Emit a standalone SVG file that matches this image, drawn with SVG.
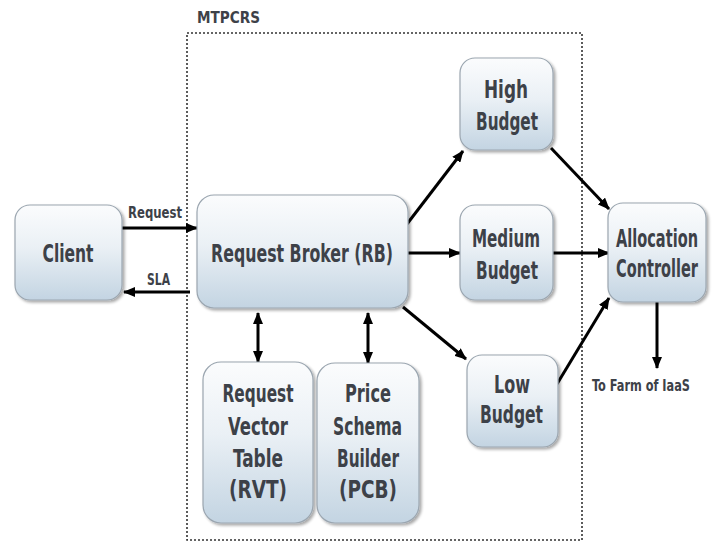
<svg xmlns="http://www.w3.org/2000/svg" width="714" height="546" viewBox="0 0 714 546">
  <defs>
    <linearGradient id="boxFill" x1="0" y1="0" x2="0" y2="1">
      <stop offset="0" stop-color="#fbfcfd"/>
      <stop offset="0.45" stop-color="#eaf0f5"/>
      <stop offset="1" stop-color="#c3d4e2"/>
    </linearGradient>
    <filter id="shadow" x="-10%" y="-10%" width="125%" height="125%">
      <feGaussianBlur in="SourceAlpha" stdDeviation="1.5"/>
      <feOffset dx="1.5" dy="2" result="b"/>
      <feComponentTransfer><feFuncA type="linear" slope="0.35"/></feComponentTransfer>
      <feMerge><feMergeNode/><feMergeNode in="SourceGraphic"/></feMerge>
    </filter>
    <marker id="head" viewBox="0 0 12 10" refX="11" refY="5" markerWidth="12" markerHeight="10" markerUnits="userSpaceOnUse" orient="auto-start-reverse">
      <path d="M0,0 L12,5 L0,10 Z" fill="#000"/>
    </marker>
  </defs>
  <style>
    .box { fill: url(#boxFill); stroke: #9ba6b0; stroke-width: 1.2; filter: url(#shadow); }
    .lbl { font-family: "DejaVu Sans Condensed", "DejaVu Sans", sans-serif; font-weight: bold; fill: #3d4148; text-anchor: middle; }
    .big { font-size: 24px; }
    .small { font-size: 16px; }
    .edge { stroke: #000; stroke-width: 3; fill: none; marker-end: url(#head); }
    .both { marker-start: url(#head); }
    .frame { fill: none; stroke: #333; stroke-width: 1.6; stroke-dasharray: 2 2; }
  </style>

  <rect width="714" height="546" fill="#fff"/>

  <!-- system boundary -->
  <g id="mtpcrs">
    <rect class="frame" x="187" y="33" width="395" height="507"/>
    <text class="lbl small" x="228.5" y="23" textLength="63" lengthAdjust="spacingAndGlyphs">MTPCRS</text>
  </g>

  <!-- connectors -->
  <g id="connectors">
    <line class="edge" x1="122" y1="228" x2="197" y2="228"/>
    <line class="edge" x1="190" y1="292" x2="124" y2="292"/>
    <line class="edge" x1="407" y1="224" x2="463" y2="151"/>
    <line class="edge" x1="408" y1="253" x2="460" y2="253"/>
    <line class="edge" x1="403" y1="307" x2="466" y2="359"/>
    <line class="edge" x1="551" y1="148" x2="609" y2="209"/>
    <line class="edge" x1="553" y1="253" x2="609" y2="253"/>
    <line class="edge" x1="557" y1="384" x2="609" y2="298"/>
    <line class="edge" x1="657" y1="302" x2="657" y2="368"/>
    <line class="edge both" x1="258" y1="313" x2="258" y2="362"/>
    <line class="edge both" x1="368" y1="313" x2="368" y2="363"/>
    <text class="lbl small" x="155" y="218" textLength="54" lengthAdjust="spacingAndGlyphs">Request</text>
    <text class="lbl small" x="158.5" y="285" textLength="23" lengthAdjust="spacingAndGlyphs">SLA</text>
    <text class="lbl small" x="641" y="391" textLength="98" lengthAdjust="spacingAndGlyphs">To Farm of IaaS</text>
  </g>

  <g id="client">
    <rect class="box" x="15" y="205" width="107" height="95" rx="15"/>
    <text class="lbl big" x="68" y="262" textLength="51" lengthAdjust="spacingAndGlyphs">Client</text>
  </g>

  <g id="request-broker">
    <rect class="box" x="197" y="195" width="211" height="113" rx="17"/>
    <text class="lbl big" x="302" y="262" textLength="182" lengthAdjust="spacingAndGlyphs">Request Broker (RB)</text>
  </g>

  <g id="high-budget">
    <rect class="box" x="460" y="58" width="93" height="92" rx="15"/>
    <text class="lbl big" x="506" y="98" textLength="44" lengthAdjust="spacingAndGlyphs">High</text>
    <text class="lbl big" x="507" y="130" textLength="62" lengthAdjust="spacingAndGlyphs">Budget</text>
  </g>

  <g id="medium-budget">
    <rect class="box" x="460" y="205" width="93" height="95" rx="15"/>
    <text class="lbl big" x="506" y="247" textLength="68" lengthAdjust="spacingAndGlyphs">Medium</text>
    <text class="lbl big" x="507" y="279" textLength="62" lengthAdjust="spacingAndGlyphs">Budget</text>
  </g>

  <g id="low-budget">
    <rect class="box" x="467" y="355" width="91" height="92" rx="15"/>
    <text class="lbl big" x="512" y="393" textLength="36" lengthAdjust="spacingAndGlyphs">Low</text>
    <text class="lbl big" x="511.5" y="423" textLength="63" lengthAdjust="spacingAndGlyphs">Budget</text>
  </g>

  <g id="allocation-controller">
    <rect class="box" x="608" y="203" width="98" height="99" rx="15"/>
    <text class="lbl big" x="657" y="247" textLength="82" lengthAdjust="spacingAndGlyphs">Allocation</text>
    <text class="lbl big" x="657" y="277" textLength="82" lengthAdjust="spacingAndGlyphs">Controller</text>
  </g>

  <g id="rvt">
    <rect class="box" x="203" y="362" width="110" height="161" rx="18"/>
    <text class="lbl big" x="258" y="402" textLength="71" lengthAdjust="spacingAndGlyphs">Request</text>
    <text class="lbl big" x="258" y="435" textLength="60" lengthAdjust="spacingAndGlyphs">Vector</text>
    <text class="lbl big" x="258" y="467" textLength="50" lengthAdjust="spacingAndGlyphs">Table</text>
    <text class="lbl big" x="258" y="498" textLength="58" lengthAdjust="spacingAndGlyphs">(RVT)</text>
  </g>

  <g id="pcb">
    <rect class="box" x="317" y="363" width="102" height="160" rx="18"/>
    <text class="lbl big" x="368" y="402" textLength="46" lengthAdjust="spacingAndGlyphs">Price</text>
    <text class="lbl big" x="367.5" y="435" textLength="69" lengthAdjust="spacingAndGlyphs">Schema</text>
    <text class="lbl big" x="368" y="467" textLength="62" lengthAdjust="spacingAndGlyphs">Builder</text>
    <text class="lbl big" x="368" y="498" textLength="58" lengthAdjust="spacingAndGlyphs">(PCB)</text>
  </g>
</svg>
